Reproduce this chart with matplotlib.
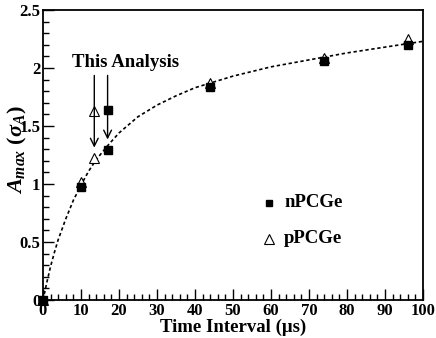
import matplotlib
matplotlib.use('Agg')
import matplotlib.pyplot as plt
from matplotlib.ticker import MultipleLocator

plt.rcParams['font.family'] = ['Liberation Serif', 'DejaVu Serif']
plt.rcParams['font.weight'] = 'bold'
plt.rcParams['mathtext.fontset'] = 'custom'
plt.rcParams['mathtext.rm'] = 'Liberation Serif:bold'
plt.rcParams['mathtext.it'] = 'Liberation Serif:italic:bold'
plt.rcParams['mathtext.bf'] = 'Liberation Serif:bold'

# data
n_time = [0, 10, 17, 44, 74, 96]
n_amax = [0, 0.97, 1.29, 1.84, 2.06, 2.20]
p_time = [0, 10, 13.5, 44, 74, 96]
p_amax = [0, 1.02, 1.22, 1.87, 2.09, 2.25]

# "this analysis" points before the correction (arrow start)
n_before = (17, 1.64)
p_before = (13.5, 1.63)

# dashed fit curve
curve_t = [0, 1, 2, 3, 4, 6, 8, 10, 12, 14, 17, 20, 25, 30, 35, 40, 44, 50, 60, 70, 80, 90, 100]
curve_a = [0, 0.15, 0.29, 0.41, 0.52, 0.70, 0.86, 0.99, 1.11, 1.21, 1.33, 1.44, 1.58,
           1.68, 1.76, 1.83, 1.87, 1.93, 2.01, 2.07, 2.13, 2.18, 2.23]

fig = plt.figure(figsize=(4.36, 3.38), dpi=100)
ax = fig.add_axes([0.0986, 0.1124, 0.8716, 0.858])

ax.plot(curve_t, curve_a, color='black', lw=1.2, ls=(0, (2, 1.6)))

ax.plot(n_time, n_amax, 's', color='black', ms=6, clip_on=False, zorder=4)
ax.plot(p_time, p_amax, '^', mfc='white', mec='black', mew=0.8, ms=7.5,
        clip_on=False, zorder=3)
ax.plot(*n_before, 's', color='black', ms=6, zorder=4)
ax.plot(*p_before, '^', mfc='white', mec='black', mew=0.8, ms=7.5, zorder=3)

# arrows from "This Analysis"
ax.annotate('', xy=(n_time[2], 1.36), xytext=(n_time[2], 1.96),
            arrowprops=dict(arrowstyle='->', color='black', lw=1.0,
                            mutation_scale=14))
ax.annotate('', xy=(p_time[2], 1.29), xytext=(p_time[2], 1.96),
            arrowprops=dict(arrowstyle='->', color='black', lw=1.0,
                            mutation_scale=14))
ax.text(21.8, 2.05, 'This Analysis', ha='center', va='center', fontsize=13.5,
        fontweight='bold')

# legend drawn by hand
ax.plot(59.5, 0.84, 's', color='black', ms=5, clip_on=False)
ax.text(63.5, 0.84, 'nPCGe', ha='left', va='center', fontsize=13.5,
        fontweight='bold')
ax.plot(59.5, 0.53, '^', mfc='white', mec='black', mew=0.8, ms=6.5)
ax.text(63.5, 0.53, 'pPCGe', ha='left', va='center', fontsize=13.5,
        fontweight='bold')

ax.set_xlim(0, 100)
ax.set_ylim(0, 2.5)
ax.xaxis.set_major_locator(MultipleLocator(10))
ax.xaxis.set_minor_locator(MultipleLocator(2))
ax.yaxis.set_major_locator(MultipleLocator(0.5))
ax.yaxis.set_minor_locator(MultipleLocator(0.1))
ax.set_xticks([0, 10, 20, 30, 40, 50, 60, 70, 80, 90, 100])
ax.set_xticklabels(['0', '10', '20', '30', '40', '50', '60', '70', '80', '90', '100'])
ax.set_yticks([0, 0.5, 1, 1.5, 2, 2.5])
ax.set_yticklabels(['0', '0.5', '1', '1.5', '2', '2.5'])
ax.tick_params(which='both', direction='in', top=False, right=False,
               labelsize=12, width=1.0, pad=2)
ax.tick_params(which='major', length=8)
ax.tick_params(which='minor', length=4)
for lab in ax.get_xticklabels() + ax.get_yticklabels():
    lab.set_fontweight('bold')
for sp in ax.spines.values():
    sp.set_linewidth(1.3)

ax.set_xlabel('Time Interval (\u03bcs)', fontsize=13.5, fontweight='bold', labelpad=0)
ax.set_ylabel(r'$A_{max}\ (\sigma_{A})$', fontsize=16, labelpad=1)
ax.yaxis.set_label_coords(-0.038, 0.52)

fig.savefig('out.png', dpi=100)
